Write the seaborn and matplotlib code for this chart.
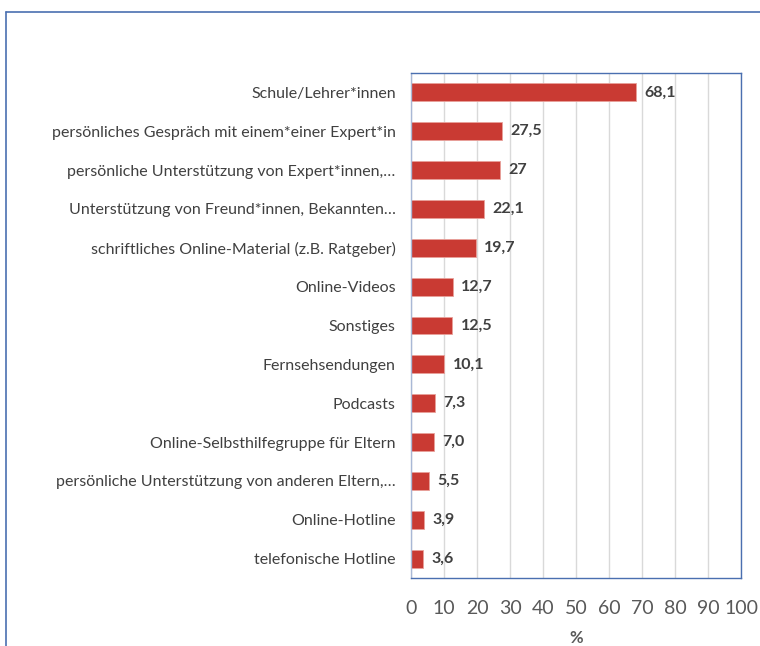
import matplotlib
matplotlib.use("Agg")
import matplotlib.pyplot as plt
from matplotlib.lines import Line2D
import seaborn as sns
import pandas as pd

categories = [
    "Schule/Lehrer*innen",
    "persönliches Gespräch mit einem*einer Expert*in",
    "persönliche Unterstützung von Expert*innen,…",
    "Unterstützung von Freund*innen, Bekannten…",
    "schriftliches Online-Material (z.B. Ratgeber)",
    "Online-Videos",
    "Sonstiges",
    "Fernsehsendungen",
    "Podcasts",
    "Online-Selbsthilfegruppe für Eltern",
    "persönliche Unterstützung von anderen Eltern,…",
    "Online-Hotline",
    "telefonische Hotline",
]
values = [68.1, 27.5, 27.0, 22.1, 19.7, 12.7, 12.5, 10.1, 7.3, 7.0, 5.5, 3.9, 3.6]
value_labels = ["68,1", "27,5", "27", "22,1", "19,7", "12,7", "12,5", "10,1",
                "7,3", "7,0", "5,5", "3,9", "3,6"]
x_ticks = [0, 10, 20, 30, 40, 50, 60, 70, 80, 90, 100]

sns.set_theme(style="white")
plt.rcParams["font.family"] = ["Lato", "DejaVu Sans"]

df = pd.DataFrame({"Kategorie": categories, "Wert": values})

fig = plt.figure(figsize=(7.6, 6.46), dpi=100)
ax = fig.add_axes([411 / 760, 1 - 578 / 646, 330 / 760, 505 / 646])

sns.barplot(data=df, x="Wert", y="Kategorie", orient="h", color="#C93A33",
            width=0.46, edgecolor="#E8A09A", linewidth=0.6, saturation=1, ax=ax)

ax.set_xlim(0, 100)
ax.set_ylim(12.5, -0.5)
ax.set_xticks(x_ticks)
ax.set_xticklabels([str(t) for t in x_ticks], fontsize=14, color="#595959")
ax.tick_params(axis="x", length=0, pad=16)
ax.tick_params(axis="y", length=0, pad=11, labelsize=11.5, labelcolor="#404040")
ax.xaxis.grid(True, color="#D9D9D9", linewidth=1)
ax.set_axisbelow(True)
ax.set_ylabel("")
ax.set_xlabel("%", fontsize=12, fontweight="bold", color="#595959", labelpad=9)

for sp in ax.spines.values():
    sp.set_visible(True)
    sp.set_color("#4A6FB0")
    sp.set_linewidth(1.0)
ax.spines["left"].set_color("#A9B8D6")

for i, (v, lab) in enumerate(zip(values, value_labels)):
    ax.annotate(lab, xy=(v, i), xytext=(6, 0), textcoords="offset points",
                ha="left", va="center", fontsize=11.5, fontweight="bold",
                color="#404040")

# outer chart frame
fig.add_artist(Line2D([6 / 760, 1.0], [1 - 12 / 646, 1 - 12 / 646],
                      transform=fig.transFigure, color="#4A6FB0", linewidth=1.2))
fig.add_artist(Line2D([6 / 760, 6 / 760], [1 - 12 / 646, 0.0],
                      transform=fig.transFigure, color="#4A6FB0", linewidth=1.2))

fig.savefig("out.png", dpi=100)
